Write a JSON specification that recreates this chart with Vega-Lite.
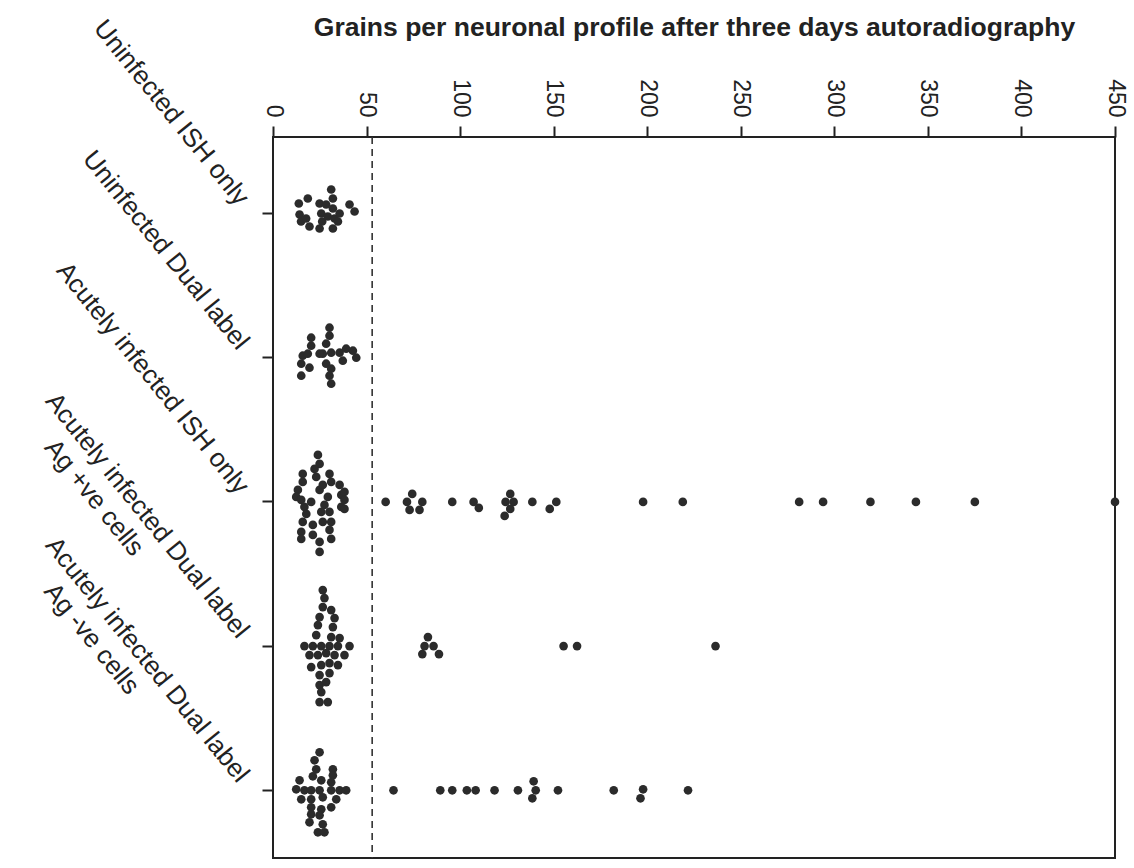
{
  "$schema": "https://vega.github.io/schema/vega-lite/v6.json",
  "width": 842,
  "height": 721,
  "autosize": {"type": "none"},
  "padding": {"left": 273, "top": 137, "right": 19, "bottom": 10},
  "background": "white",
  "config": {"view": {"stroke": "#222", "strokeWidth": 2}, "font": "Liberation Sans"},
  "datasets": {
    "cells": [
      {"group": "Uninfected ISH only", "grains": 13.8, "jitter": -10},
      {"group": "Uninfected ISH only", "grains": 14.2, "jitter": 1},
      {"group": "Uninfected ISH only", "grains": 15, "jitter": 8},
      {"group": "Uninfected ISH only", "grains": 18.6, "jitter": -15},
      {"group": "Uninfected ISH only", "grains": 17.7, "jitter": 5},
      {"group": "Uninfected ISH only", "grains": 19.5, "jitter": 13},
      {"group": "Uninfected ISH only", "grains": 24.9, "jitter": -10},
      {"group": "Uninfected ISH only", "grains": 25.8, "jitter": 0},
      {"group": "Uninfected ISH only", "grains": 26.3, "jitter": 8},
      {"group": "Uninfected ISH only", "grains": 24.9, "jitter": 15},
      {"group": "Uninfected ISH only", "grains": 28.4, "jitter": -9},
      {"group": "Uninfected ISH only", "grains": 29.3, "jitter": 3},
      {"group": "Uninfected ISH only", "grains": 31.1, "jitter": -24},
      {"group": "Uninfected ISH only", "grains": 32, "jitter": -15},
      {"group": "Uninfected ISH only", "grains": 32, "jitter": -5},
      {"group": "Uninfected ISH only", "grains": 32.9, "jitter": 5},
      {"group": "Uninfected ISH only", "grains": 32, "jitter": 15},
      {"group": "Uninfected ISH only", "grains": 35.6, "jitter": 0},
      {"group": "Uninfected ISH only", "grains": 34.7, "jitter": 8},
      {"group": "Uninfected ISH only", "grains": 40.9, "jitter": -9},
      {"group": "Uninfected ISH only", "grains": 43.6, "jitter": -2},

      {"group": "Uninfected Dual label", "grains": 15.9, "jitter": -2},
      {"group": "Uninfected Dual label", "grains": 15.1, "jitter": 6},
      {"group": "Uninfected Dual label", "grains": 15.1, "jitter": 18},
      {"group": "Uninfected Dual label", "grains": 20.4, "jitter": -20},
      {"group": "Uninfected Dual label", "grains": 20.4, "jitter": -12},
      {"group": "Uninfected Dual label", "grains": 18.6, "jitter": -4},
      {"group": "Uninfected Dual label", "grains": 19.5, "jitter": 10},
      {"group": "Uninfected Dual label", "grains": 30.2, "jitter": -30},
      {"group": "Uninfected Dual label", "grains": 30.2, "jitter": -22},
      {"group": "Uninfected Dual label", "grains": 28.4, "jitter": -14},
      {"group": "Uninfected Dual label", "grains": 26.6, "jitter": -4},
      {"group": "Uninfected Dual label", "grains": 31.1, "jitter": -5},
      {"group": "Uninfected Dual label", "grains": 28.4, "jitter": 6},
      {"group": "Uninfected Dual label", "grains": 31.1, "jitter": 11},
      {"group": "Uninfected Dual label", "grains": 30.2, "jitter": 18},
      {"group": "Uninfected Dual label", "grains": 31.1, "jitter": 26},
      {"group": "Uninfected Dual label", "grains": 24.9, "jitter": -4},
      {"group": "Uninfected Dual label", "grains": 35.6, "jitter": -5},
      {"group": "Uninfected Dual label", "grains": 39.1, "jitter": -9},
      {"group": "Uninfected Dual label", "grains": 42.7, "jitter": -7},
      {"group": "Uninfected Dual label", "grains": 44.5, "jitter": 0},
      {"group": "Uninfected Dual label", "grains": 37.3, "jitter": 3},

      {"group": "Acutely infected ISH only", "grains": 24, "jitter": -47},
      {"group": "Acutely infected ISH only", "grains": 24.9, "jitter": -38},
      {"group": "Acutely infected ISH only", "grains": 22.2, "jitter": -33},
      {"group": "Acutely infected ISH only", "grains": 23.1, "jitter": -25},
      {"group": "Acutely infected ISH only", "grains": 15.9, "jitter": -28},
      {"group": "Acutely infected ISH only", "grains": 15.9, "jitter": -20},
      {"group": "Acutely infected ISH only", "grains": 13.3, "jitter": -12},
      {"group": "Acutely infected ISH only", "grains": 12.4, "jitter": -5},
      {"group": "Acutely infected ISH only", "grains": 15.1, "jitter": -2},
      {"group": "Acutely infected ISH only", "grains": 16.8, "jitter": 5},
      {"group": "Acutely infected ISH only", "grains": 17.8, "jitter": 12},
      {"group": "Acutely infected ISH only", "grains": 15.9, "jitter": 20},
      {"group": "Acutely infected ISH only", "grains": 15.1, "jitter": 30},
      {"group": "Acutely infected ISH only", "grains": 15.1, "jitter": 37},
      {"group": "Acutely infected ISH only", "grains": 20.4, "jitter": 0},
      {"group": "Acutely infected ISH only", "grains": 21.3, "jitter": 23},
      {"group": "Acutely infected ISH only", "grains": 21.3, "jitter": 33},
      {"group": "Acutely infected ISH only", "grains": 24.9, "jitter": 40},
      {"group": "Acutely infected ISH only", "grains": 24.9, "jitter": 50},
      {"group": "Acutely infected ISH only", "grains": 24.9, "jitter": -12},
      {"group": "Acutely infected ISH only", "grains": 26.6, "jitter": -17},
      {"group": "Acutely infected ISH only", "grains": 25.8, "jitter": 10},
      {"group": "Acutely infected ISH only", "grains": 26.6, "jitter": 20},
      {"group": "Acutely infected ISH only", "grains": 27.5, "jitter": 3},
      {"group": "Acutely infected ISH only", "grains": 30.2, "jitter": -28},
      {"group": "Acutely infected ISH only", "grains": 31.1, "jitter": -20},
      {"group": "Acutely infected ISH only", "grains": 29.3, "jitter": -5},
      {"group": "Acutely infected ISH only", "grains": 30.2, "jitter": 10},
      {"group": "Acutely infected ISH only", "grains": 31.1, "jitter": 20},
      {"group": "Acutely infected ISH only", "grains": 30.2, "jitter": 28},
      {"group": "Acutely infected ISH only", "grains": 31.1, "jitter": 37},
      {"group": "Acutely infected ISH only", "grains": 35.6, "jitter": -17},
      {"group": "Acutely infected ISH only", "grains": 36.5, "jitter": -7},
      {"group": "Acutely infected ISH only", "grains": 36.5, "jitter": 5},
      {"group": "Acutely infected ISH only", "grains": 38.2, "jitter": -10},
      {"group": "Acutely infected ISH only", "grains": 38.2, "jitter": -2},
      {"group": "Acutely infected ISH only", "grains": 38.2, "jitter": 7},
      {"group": "Acutely infected ISH only", "grains": 60.2, "jitter": 0},
      {"group": "Acutely infected ISH only", "grains": 74.4, "jitter": -8},
      {"group": "Acutely infected ISH only", "grains": 71.6, "jitter": 0},
      {"group": "Acutely infected ISH only", "grains": 79.8, "jitter": 0},
      {"group": "Acutely infected ISH only", "grains": 73, "jitter": 8},
      {"group": "Acutely infected ISH only", "grains": 78.3, "jitter": 8},
      {"group": "Acutely infected ISH only", "grains": 95.8, "jitter": 0},
      {"group": "Acutely infected ISH only", "grains": 107.2, "jitter": 0},
      {"group": "Acutely infected ISH only", "grains": 110, "jitter": 6},
      {"group": "Acutely infected ISH only", "grains": 126.8, "jitter": -8},
      {"group": "Acutely infected ISH only", "grains": 124.3, "jitter": 0},
      {"group": "Acutely infected ISH only", "grains": 128.6, "jitter": 0},
      {"group": "Acutely infected ISH only", "grains": 126.8, "jitter": 7},
      {"group": "Acutely infected ISH only", "grains": 123.8, "jitter": 14},
      {"group": "Acutely infected ISH only", "grains": 138.6, "jitter": 0},
      {"group": "Acutely infected ISH only", "grains": 151.4, "jitter": 0},
      {"group": "Acutely infected ISH only", "grains": 147.9, "jitter": 7},
      {"group": "Acutely infected ISH only", "grains": 197.8, "jitter": 0},
      {"group": "Acutely infected ISH only", "grains": 219, "jitter": 0},
      {"group": "Acutely infected ISH only", "grains": 281.2, "jitter": 0},
      {"group": "Acutely infected ISH only", "grains": 294, "jitter": 0},
      {"group": "Acutely infected ISH only", "grains": 319.3, "jitter": 0},
      {"group": "Acutely infected ISH only", "grains": 343.6, "jitter": 0},
      {"group": "Acutely infected ISH only", "grains": 375.1, "jitter": 0},
      {"group": "Acutely infected ISH only", "grains": 450, "jitter": 0},

      {"group": "Acutely infected Dual label, Ag +ve cells", "grains": 26.6, "jitter": -56},
      {"group": "Acutely infected Dual label, Ag +ve cells", "grains": 27.5, "jitter": -48},
      {"group": "Acutely infected Dual label, Ag +ve cells", "grains": 26.6, "jitter": -39},
      {"group": "Acutely infected Dual label, Ag +ve cells", "grains": 24.9, "jitter": -29},
      {"group": "Acutely infected Dual label, Ag +ve cells", "grains": 24, "jitter": -21},
      {"group": "Acutely infected Dual label, Ag +ve cells", "grains": 23.1, "jitter": -11},
      {"group": "Acutely infected Dual label, Ag +ve cells", "grains": 31.1, "jitter": -36},
      {"group": "Acutely infected Dual label, Ag +ve cells", "grains": 32.9, "jitter": -28},
      {"group": "Acutely infected Dual label, Ag +ve cells", "grains": 32, "jitter": -19},
      {"group": "Acutely infected Dual label, Ag +ve cells", "grains": 31.1, "jitter": -9},
      {"group": "Acutely infected Dual label, Ag +ve cells", "grains": 35.6, "jitter": -8},
      {"group": "Acutely infected Dual label, Ag +ve cells", "grains": 16.8, "jitter": 0},
      {"group": "Acutely infected Dual label, Ag +ve cells", "grains": 21.3, "jitter": 0},
      {"group": "Acutely infected Dual label, Ag +ve cells", "grains": 25.8, "jitter": 0},
      {"group": "Acutely infected Dual label, Ag +ve cells", "grains": 30.2, "jitter": 0},
      {"group": "Acutely infected Dual label, Ag +ve cells", "grains": 34.7, "jitter": 0},
      {"group": "Acutely infected Dual label, Ag +ve cells", "grains": 40.9, "jitter": 0},
      {"group": "Acutely infected Dual label, Ag +ve cells", "grains": 19.5, "jitter": 9},
      {"group": "Acutely infected Dual label, Ag +ve cells", "grains": 24, "jitter": 9},
      {"group": "Acutely infected Dual label, Ag +ve cells", "grains": 28.4, "jitter": 7},
      {"group": "Acutely infected Dual label, Ag +ve cells", "grains": 32.9, "jitter": 9},
      {"group": "Acutely infected Dual label, Ag +ve cells", "grains": 38.2, "jitter": 9},
      {"group": "Acutely infected Dual label, Ag +ve cells", "grains": 20.4, "jitter": 21},
      {"group": "Acutely infected Dual label, Ag +ve cells", "grains": 25.8, "jitter": 19},
      {"group": "Acutely infected Dual label, Ag +ve cells", "grains": 30.2, "jitter": 17},
      {"group": "Acutely infected Dual label, Ag +ve cells", "grains": 34.7, "jitter": 19},
      {"group": "Acutely infected Dual label, Ag +ve cells", "grains": 24.9, "jitter": 29},
      {"group": "Acutely infected Dual label, Ag +ve cells", "grains": 30.2, "jitter": 27},
      {"group": "Acutely infected Dual label, Ag +ve cells", "grains": 24.9, "jitter": 39},
      {"group": "Acutely infected Dual label, Ag +ve cells", "grains": 28.4, "jitter": 36},
      {"group": "Acutely infected Dual label, Ag +ve cells", "grains": 25.8, "jitter": 46},
      {"group": "Acutely infected Dual label, Ag +ve cells", "grains": 24.9, "jitter": 56},
      {"group": "Acutely infected Dual label, Ag +ve cells", "grains": 29.3, "jitter": 56},
      {"group": "Acutely infected Dual label, Ag +ve cells", "grains": 82.8, "jitter": -9},
      {"group": "Acutely infected Dual label, Ag +ve cells", "grains": 81, "jitter": 0},
      {"group": "Acutely infected Dual label, Ag +ve cells", "grains": 85.8, "jitter": 0},
      {"group": "Acutely infected Dual label, Ag +ve cells", "grains": 79.8, "jitter": 8},
      {"group": "Acutely infected Dual label, Ag +ve cells", "grains": 88.7, "jitter": 8},
      {"group": "Acutely infected Dual label, Ag +ve cells", "grains": 155.3, "jitter": 0},
      {"group": "Acutely infected Dual label, Ag +ve cells", "grains": 162.5, "jitter": 0},
      {"group": "Acutely infected Dual label, Ag +ve cells", "grains": 236.5, "jitter": 0},

      {"group": "Acutely infected Dual label, Ag -ve cells", "grains": 24.9, "jitter": -38},
      {"group": "Acutely infected Dual label, Ag -ve cells", "grains": 22.2, "jitter": -30},
      {"group": "Acutely infected Dual label, Ag -ve cells", "grains": 23.1, "jitter": -21},
      {"group": "Acutely infected Dual label, Ag -ve cells", "grains": 21.3, "jitter": -14},
      {"group": "Acutely infected Dual label, Ag -ve cells", "grains": 32, "jitter": -21},
      {"group": "Acutely infected Dual label, Ag -ve cells", "grains": 32, "jitter": -15},
      {"group": "Acutely infected Dual label, Ag -ve cells", "grains": 31.1, "jitter": -8},
      {"group": "Acutely infected Dual label, Ag -ve cells", "grains": 25.8, "jitter": -10},
      {"group": "Acutely infected Dual label, Ag -ve cells", "grains": 14.2, "jitter": -10},
      {"group": "Acutely infected Dual label, Ag -ve cells", "grains": 12.4, "jitter": -1},
      {"group": "Acutely infected Dual label, Ag -ve cells", "grains": 16.8, "jitter": 0},
      {"group": "Acutely infected Dual label, Ag -ve cells", "grains": 20.4, "jitter": 0},
      {"group": "Acutely infected Dual label, Ag -ve cells", "grains": 24.9, "jitter": 0},
      {"group": "Acutely infected Dual label, Ag -ve cells", "grains": 31.1, "jitter": 0},
      {"group": "Acutely infected Dual label, Ag -ve cells", "grains": 35.6, "jitter": 0},
      {"group": "Acutely infected Dual label, Ag -ve cells", "grains": 39.1, "jitter": 0},
      {"group": "Acutely infected Dual label, Ag -ve cells", "grains": 15.1, "jitter": 9},
      {"group": "Acutely infected Dual label, Ag -ve cells", "grains": 20.4, "jitter": 9},
      {"group": "Acutely infected Dual label, Ag -ve cells", "grains": 26.6, "jitter": 7},
      {"group": "Acutely infected Dual label, Ag -ve cells", "grains": 33.8, "jitter": 9},
      {"group": "Acutely infected Dual label, Ag -ve cells", "grains": 20.4, "jitter": 17},
      {"group": "Acutely infected Dual label, Ag -ve cells", "grains": 25.8, "jitter": 19},
      {"group": "Acutely infected Dual label, Ag -ve cells", "grains": 31.1, "jitter": 17},
      {"group": "Acutely infected Dual label, Ag -ve cells", "grains": 20.4, "jitter": 24},
      {"group": "Acutely infected Dual label, Ag -ve cells", "grains": 24.9, "jitter": 25},
      {"group": "Acutely infected Dual label, Ag -ve cells", "grains": 19.5, "jitter": 32},
      {"group": "Acutely infected Dual label, Ag -ve cells", "grains": 26.6, "jitter": 34},
      {"group": "Acutely infected Dual label, Ag -ve cells", "grains": 24, "jitter": 42},
      {"group": "Acutely infected Dual label, Ag -ve cells", "grains": 27.5, "jitter": 42},
      {"group": "Acutely infected Dual label, Ag -ve cells", "grains": 64.4, "jitter": 0},
      {"group": "Acutely infected Dual label, Ag -ve cells", "grains": 89.4, "jitter": 0},
      {"group": "Acutely infected Dual label, Ag -ve cells", "grains": 95.8, "jitter": 0},
      {"group": "Acutely infected Dual label, Ag -ve cells", "grains": 103.6, "jitter": 0},
      {"group": "Acutely infected Dual label, Ag -ve cells", "grains": 108.3, "jitter": 0},
      {"group": "Acutely infected Dual label, Ag -ve cells", "grains": 118.4, "jitter": 0},
      {"group": "Acutely infected Dual label, Ag -ve cells", "grains": 130.9, "jitter": 0},
      {"group": "Acutely infected Dual label, Ag -ve cells", "grains": 139.3, "jitter": -9},
      {"group": "Acutely infected Dual label, Ag -ve cells", "grains": 140.4, "jitter": 0},
      {"group": "Acutely infected Dual label, Ag -ve cells", "grains": 138.6, "jitter": 8},
      {"group": "Acutely infected Dual label, Ag -ve cells", "grains": 152.3, "jitter": 0},
      {"group": "Acutely infected Dual label, Ag -ve cells", "grains": 182.1, "jitter": 0},
      {"group": "Acutely infected Dual label, Ag -ve cells", "grains": 197.8, "jitter": -1},
      {"group": "Acutely infected Dual label, Ag -ve cells", "grains": 196.4, "jitter": 8},
      {"group": "Acutely infected Dual label, Ag -ve cells", "grains": 221.8, "jitter": 0}
    ],
    "cutoff": [{"grains": 53}]
  },
  "layer": [
    {
      "data": {"name": "cutoff"},
      "mark": {"type": "rule", "strokeDash": [7, 5], "strokeWidth": 1.6, "color": "#333"},
      "encoding": {
        "x": {"field": "grains", "type": "quantitative", "scale": {"domain": [0, 450], "nice": false, "zero": true},
          "axis": {"orient": "top", "values": [0, 50, 100, 150, 200, 250, 300, 350, 400, 450],
            "title": "Grains per neuronal profile after three days autoradiography", "titleFontSize": 26.5, "titleFontWeight": "bold", "titleFont": "Liberation Sans", "titleColor": "#222", "titlePadding": 37,
            "domain": false, "grid": false, "ticks": true, "tickSize": 11, "tickWidth": 2, "tickColor": "#222", "labelAngle": 90, "labelAlign": "right", "labelBaseline": "middle", "labelFontSize": 23, "labelPadding": 9, "labelColor": "#222", "labelFont": "Liberation Sans", "labelFlush": false, "labelOverlap": false}}
      }
    },
    {
      "data": {"name": "cells"},
      "mark": {"type": "circle", "size": 75, "color": "#2b2b2b", "opacity": 1},
      "encoding": {
        "x": {"field": "grains", "type": "quantitative"},
        "y": {"field": "group", "type": "nominal",
          "scale": {"domain": ["Uninfected ISH only", "Uninfected Dual label", "Acutely infected ISH only", "Acutely infected Dual label, Ag +ve cells", "Acutely infected Dual label, Ag -ve cells"], "paddingInner": 0, "paddingOuter": 0},
          "axis": {"title": null, "domain": false, "grid": false, "ticks": true, "tickSize": 11, "tickWidth": 2, "tickColor": "#222", "bandPosition": 0.5305, "labelAngle": 51, "labelAlign": "right", "labelBaseline": "middle", "labelFontSize": 26, "labelPadding": 19, "labelOffset": -7, "labelLimit": 600, "labelOverlap": false, "labelBound": false, "labelLineHeight": 30, "labelColor": "#222", "labelFont": "Liberation Sans",
            "labelExpr": "datum.label == 'Acutely infected Dual label, Ag +ve cells' ? ['Acutely infected Dual label', 'Ag +ve cells\u00a0\u00a0\u00a0\u00a0\u00a0\u00a0\u00a0\u00a0\u00a0\u00a0\u00a0\u00a0\u00a0\u00a0\u00a0\u00a0\u00a0\u00a0\u200b'] : datum.label == 'Acutely infected Dual label, Ag -ve cells' ? ['Acutely infected Dual label', 'Ag -ve cells\u00a0\u00a0\u00a0\u00a0\u00a0\u00a0\u00a0\u00a0\u00a0\u00a0\u00a0\u00a0\u00a0\u00a0\u00a0\u00a0\u00a0\u00a0\u00a0\u200b'] : datum.label"}},
        "yOffset": {"field": "jitter", "type": "quantitative", "scale": {"domain": [-76.5, 67.7]}}
      }
    }
  ]
}
